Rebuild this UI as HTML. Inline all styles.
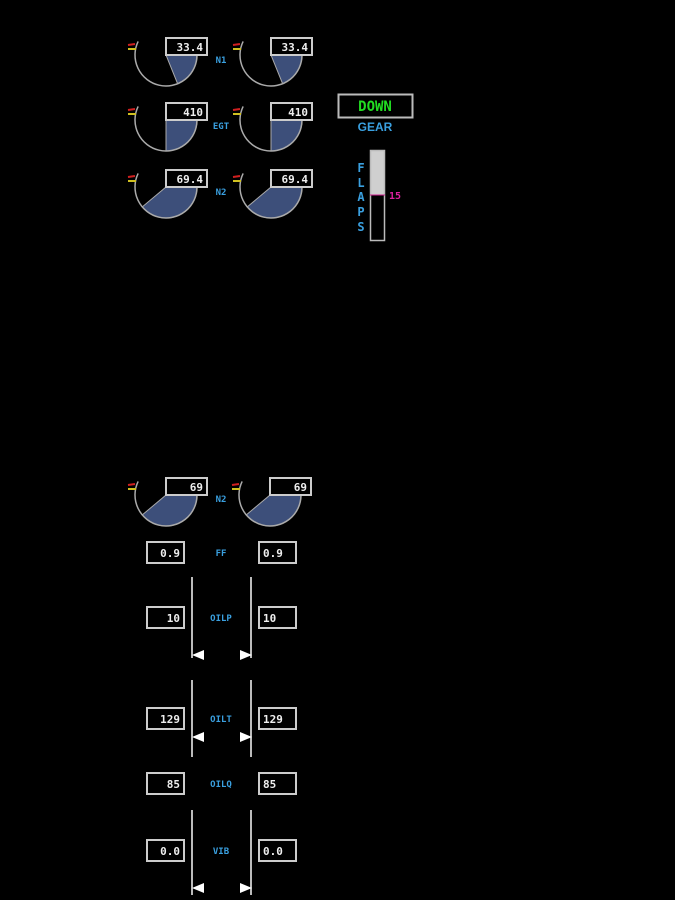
<!DOCTYPE html>
<html><head><meta charset="utf-8"><style>
html,body{margin:0;padding:0;background:#000;width:675px;height:900px;overflow:hidden}
svg{display:block}
text{font-family:"DejaVu Sans Mono","Liberation Mono",monospace;font-weight:bold}
</style></head><body>
<svg id="s" width="675" height="900" viewBox="0 0 675 900" xmlns="http://www.w3.org/2000/svg">
<rect x="338.5" y="94.5" width="74" height="23" fill="none" stroke="#bbb" stroke-width="2"/>
<text x="375" y="111" font-size="14" fill="#22dd22" text-anchor="middle">DOWN</text>
<text x="375" y="131" font-size="12" fill="#3aa0e0" text-anchor="middle" style="font-family:'Liberation Sans',sans-serif">GEAR</text>
<rect x="370" y="151" width="14" height="44" fill="#cfcfcf"/>
<rect x="370.5" y="150.5" width="14" height="90" fill="none" stroke="#bbb" stroke-width="1.5"/>
<line x1="370" y1="195" x2="385" y2="195" stroke="#d02090" stroke-width="1"/>
<text x="389" y="199" font-size="10" fill="#e020a0">15</text>
<g font-size="12" fill="#3aa0e0" text-anchor="middle" style="font-family:'Liberation Sans',sans-serif">
<text x="361" y="172">F</text><text x="361" y="187">L</text><text x="361" y="201">A</text><text x="361" y="216">P</text><text x="361" y="231">S</text>
</g>
</svg>
<script>
var s=document.getElementById('s'),ns='http://www.w3.org/2000/svg';
function el(t,a,txt){var e=document.createElementNS(ns,t);for(var k in a)e.setAttribute(k,a[k]);if(txt)e.textContent=txt;s.appendChild(e);return e;}
function gauge(cx,cy,deg,val){
 var r=31,a=deg*Math.PI/180;
 var ex=cx+r*Math.cos(a),ey=cy+r*Math.sin(a);
 el('path',{d:'M'+cx+','+cy+' L'+(cx+r)+','+cy+' A'+r+','+r+' 0 0 1 '+ex+','+ey+' Z',fill:'#3d4f7a',stroke:'#aaa','stroke-width':1});
 var sa=206*Math.PI/180;
 el('path',{d:'M'+(cx+r*Math.cos(sa))+','+(cy+r*Math.sin(sa))+' A'+r+','+r+' 0 1 0 '+(cx+r)+','+cy,fill:'none',stroke:'#aaa','stroke-width':1.5});
 el('line',{x1:cx-38,y1:cy-10,x2:cx-31,y2:cy-11,stroke:'#d02020','stroke-width':2});
 el('line',{x1:cx-38,y1:cy-6,x2:cx-30,y2:cy-6,stroke:'#d0c020','stroke-width':2});
 el('rect',{x:cx,y:cy-17,width:41,height:17,fill:'#000',stroke:'#ccc','stroke-width':2});
 el('text',{x:cx+37,y:cy-4,'font-size':11,fill:'#eee','text-anchor':'end'},val);
}
function lab(x,y,t){el('text',{x:x,y:y,'font-size':9,fill:'#3aa0e0','text-anchor':'middle'},t);}
gauge(166,55,68,'33.4');gauge(271,55,68,'33.4');lab(221,63,'N1');
gauge(166,120,90,'410');gauge(271,120,90,'410');lab(221,129,'EGT');
gauge(166,187,140,'69.4');gauge(271,187,140,'69.4');lab(221,195,'N2');
gauge(166,495,140,'69');gauge(270,495,140,'69');lab(221,502,'N2');
function box(x,y,v,right){
 el('rect',{x:x,y:y,width:37,height:21,fill:'none',stroke:'#ccc','stroke-width':2});
 if(right)el('text',{x:x+33,y:y+15,'font-size':11,fill:'#eee','text-anchor':'end'},v);
 else el('text',{x:x+4,y:y+15,'font-size':11,fill:'#eee'},v);
}
function row(y,v,l){box(147,y,v,true);box(259,y,v,false);lab(221,y+14,l);}
row(542,'0.9','FF');row(607,'10','OILP');row(708,'129','OILT');row(773,'85','OILQ');row(840,'0.0','VIB');
function bars(y1,y2,ty){
 el('line',{x1:192,y1:y1,x2:192,y2:y2,stroke:'#bbb','stroke-width':2});
 el('line',{x1:251,y1:y1,x2:251,y2:y2,stroke:'#bbb','stroke-width':2});
 el('polygon',{points:'192,'+ty+' 204,'+(ty-5)+' 204,'+(ty+5),fill:'#fff'});
 el('polygon',{points:'252,'+ty+' 240,'+(ty-5)+' 240,'+(ty+5),fill:'#fff'});
}
bars(577,658,655);bars(680,757,737);bars(810,895,888);
</script>
</body></html>
